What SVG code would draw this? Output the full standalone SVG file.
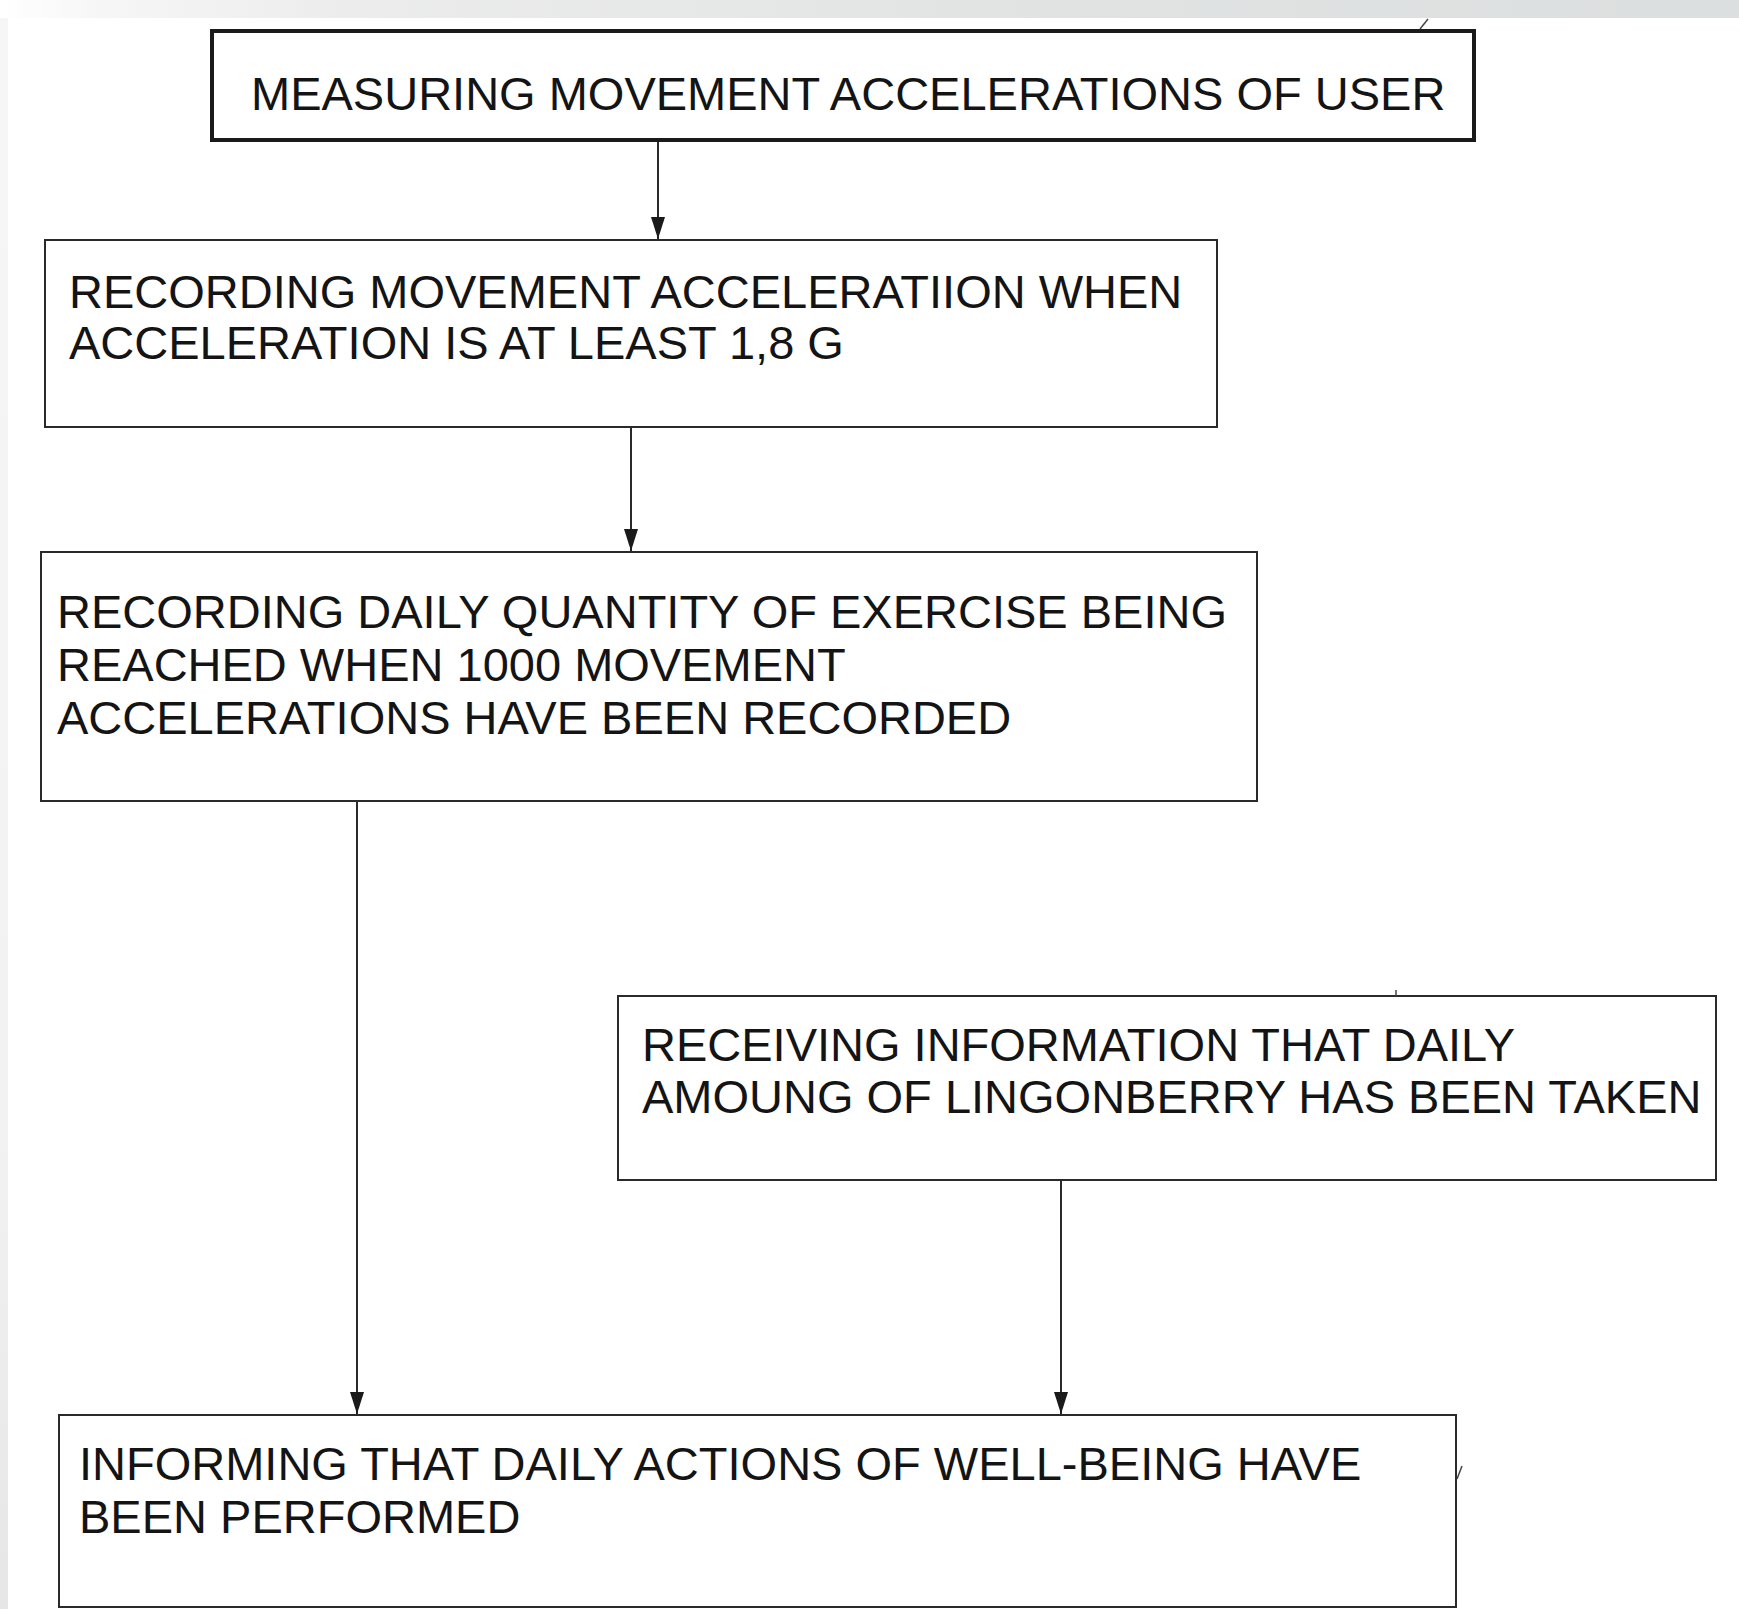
<svg xmlns="http://www.w3.org/2000/svg" width="1739" height="1609" viewBox="0 0 1739 1609">
  <defs>
    <linearGradient id="topband" x1="0" y1="0" x2="1" y2="0">
      <stop offset="0" stop-color="#ffffff"/>
      <stop offset="0.06" stop-color="#f6f6f6"/>
      <stop offset="0.2" stop-color="#ececec"/>
      <stop offset="0.6" stop-color="#e1e3e3"/>
      <stop offset="1" stop-color="#dcdfdf"/>
    </linearGradient>
    <linearGradient id="leftband" x1="0" y1="0" x2="0" y2="1">
      <stop offset="0" stop-color="#f6f6f6"/>
      <stop offset="0.7" stop-color="#f2f2f2"/>
      <stop offset="1" stop-color="#e6e6e6"/>
    </linearGradient>
    <marker id="arrow" markerUnits="userSpaceOnUse" markerWidth="22" markerHeight="16" refX="22" refY="8" orient="auto">
      <path d="M0,1 L22,8 L0,15 Z" fill="#1a1a1a"/>
    </marker>
    <style>
      .box { fill: #ffffff; stroke: #2a2a2a; stroke-width: 2; }
      .box-bold { fill: #ffffff; stroke: #1a1a1a; stroke-width: 4; }
      .label { font-family: "Liberation Sans", Arial, sans-serif; font-size: 47px; fill: #141414; }
      .conn { stroke: #2a2a2a; stroke-width: 2; fill: none; }
      .mark { stroke: #444444; stroke-width: 1.5; fill: none; }
    </style>
  </defs>

  <rect x="0" y="0" width="1739" height="1609" fill="#ffffff"/>
  <rect x="0" y="0" width="1739" height="18" fill="url(#topband)"/>
  <rect x="0" y="18" width="8" height="1591" fill="url(#leftband)"/>

  <g id="connectors">
    <line class="conn" x1="658" y1="142" x2="658" y2="239" marker-end="url(#arrow)"/>
    <line class="conn" x1="631" y1="428" x2="631" y2="551" marker-end="url(#arrow)"/>
    <line class="conn" x1="357" y1="802" x2="357" y2="1414" marker-end="url(#arrow)"/>
    <line class="conn" x1="1061" y1="1181" x2="1061" y2="1414" marker-end="url(#arrow)"/>
  </g>

  <g id="node-measuring">
    <rect class="box-bold" x="212" y="31" width="1262" height="109"/>
    <line class="mark" x1="1420" y1="29" x2="1428" y2="19"/>
    <text class="label" x="251" y="110">MEASURING MOVEMENT ACCELERATIONS OF USER</text>
  </g>

  <g id="node-recording-acceleration">
    <rect class="box" x="45" y="240" width="1172" height="187"/>
    <text class="label" x="69" y="308">RECORDING MOVEMENT ACCELERATIION WHEN</text>
    <text class="label" x="69" y="359">ACCELERATION IS AT LEAST 1,8 G</text>
  </g>

  <g id="node-recording-daily">
    <rect class="box" x="41" y="552" width="1216" height="249"/>
    <text class="label" x="57" y="628">RECORDING DAILY QUANTITY OF EXERCISE BEING</text>
    <text class="label" x="57" y="681">REACHED WHEN 1000 MOVEMENT</text>
    <text class="label" x="57" y="734">ACCELERATIONS HAVE BEEN RECORDED</text>
  </g>

  <g id="node-receiving">
    <rect class="box" x="618" y="996" width="1098" height="184"/>
    <line class="mark" x1="1396" y1="990" x2="1396" y2="996"/>
    <text class="label" x="642" y="1061">RECEIVING INFORMATION THAT DAILY</text>
    <text class="label" x="642" y="1113">AMOUNG OF LINGONBERRY HAS BEEN TAKEN</text>
  </g>

  <g id="node-informing">
    <rect class="box" x="59" y="1415" width="1397" height="192"/>
    <line class="mark" x1="1457" y1="1479" x2="1462" y2="1466"/>
    <text class="label" x="79" y="1480">INFORMING THAT DAILY ACTIONS OF WELL-BEING HAVE</text>
    <text class="label" x="79" y="1533">BEEN PERFORMED</text>
  </g>
</svg>
